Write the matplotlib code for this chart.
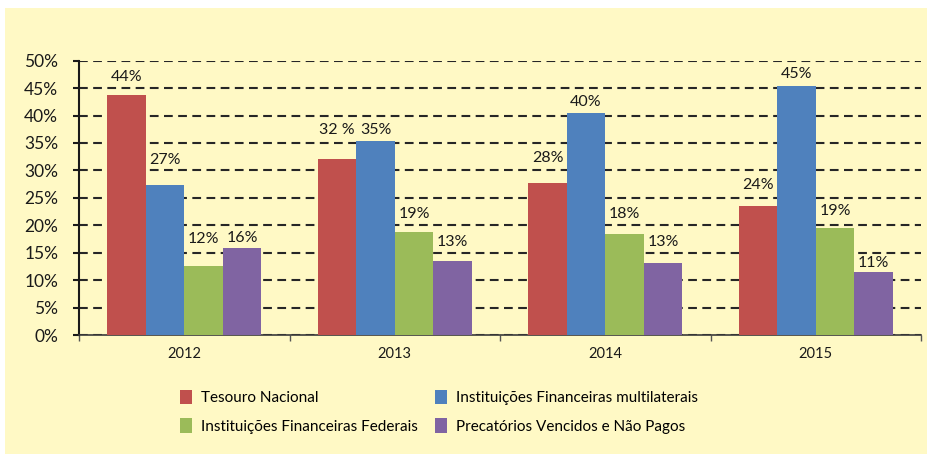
import numpy as np
import matplotlib
matplotlib.use('Agg')
import matplotlib.pyplot as plt
from matplotlib.patches import Rectangle, Patch
from matplotlib.ticker import FixedLocator

# ── Data ──
years = ['2012', '2013', '2014', '2015']
series = ['Tesouro Nacional', 'Instituições Financeiras multilaterais',
          'Instituições Financeiras Federais', 'Precatórios Vencidos e Não Pagos']
tesouro = [43.7, 32.1, 27.7, 23.5]
multilaterais = [27.3, 35.3, 40.4, 45.4]
federais = [12.5, 18.7, 18.4, 19.5]
precatorios = [15.8, 13.4, 13.1, 11.4]
labels = [['44%', '32 %', '28%', '24%'],
          ['27%', '35%', '40%', '45%'],
          ['12%', '19%', '18%', '19%'],
          ['16%', '13%', '13%', '11%']]

# label offsets above bar tops (in % units), as placed in the original
label_off = [[3.3, 5.3, 4.5, 3.8],
             [4.6, 2.1, 2.1, 2.2],
             [5.0, 3.3, 3.6, 3.1],
             [1.8, 3.5, 3.8, 1.7]]

# ── Style ──
BG = '#FFF9C5'
COLORS = ['#C0504D', '#4F81BD', '#9BBB59', '#8064A2']
TEXT = '#1a1a1a'

plt.rcParams['font.family'] = ['Lato', 'DejaVu Sans']
plt.rcParams['font.size'] = 11

fig = plt.figure(figsize=(9.27, 4.54), dpi=100)
fig.patch.set_facecolor('white')
fig.patches.append(Rectangle((5 / 927, 0), 1, 1 - 8 / 454, transform=fig.transFigure,
                             facecolor=BG, edgecolor='none', zorder=-10))

ax = fig.add_axes([79 / 927, 1 - 335 / 454, (921 - 79) / 927, (335 - 60.7) / 454])
ax.set_facecolor('none')

x = np.arange(len(years))
w = 0.183
values = [tesouro, multilaterais, federais, precatorios]
for i, (vals, col, name) in enumerate(zip(values, COLORS, series)):
    pos = x + (i - 1.5) * w
    ax.bar(pos, vals, w, color=col, edgecolor='none', label=name, zorder=3)
    for xi, v, lab, off in zip(pos, vals, labels[i], label_off[i]):
        ax.text(xi, v + off, lab, ha='center', va='center', fontsize=11.5, color=TEXT)

ax.set_xlim(-0.5, 3.5)
ax.set_ylim(0, 50)
ax.set_yticks(np.arange(0, 51, 5))
ax.set_yticklabels([f'{v}%' for v in range(0, 51, 5)], fontsize=12.5, color=TEXT)
ax.yaxis.grid(True, linestyle=(0, (4.2, 2.6)), color='#262626', linewidth=1.5, zorder=0)
ax.set_axisbelow(True)

ax.set_xticks(x)
ax.set_xticklabels(years, fontsize=10.5, color=TEXT)
ax.xaxis.set_minor_locator(FixedLocator([-0.5, 0.5, 1.5, 2.5, 3.5]))
ax.tick_params(axis='x', which='major', length=0, pad=9)
ax.tick_params(axis='x', which='minor', length=4, color='#555555', width=1)
ax.tick_params(axis='y', length=4, width=1.5, color='#1a1a1a', pad=11)

for s in ['top', 'right']:
    ax.spines[s].set_visible(False)
ax.spines['left'].set_linewidth(1.5)
ax.spines['left'].set_color('#1a1a1a')
ax.spines['bottom'].set_linewidth(1.2)
ax.spines['bottom'].set_color('#3a3a3a')

handles = [Patch(facecolor=c, edgecolor='none') for c in COLORS]
order = [0, 2, 1, 3]
fig.legend([handles[i] for i in order], [series[i] for i in order],
           loc='upper left', bbox_to_anchor=(166 / 927, 1 - 376 / 454), ncol=2,
           frameon=False, fontsize=11, handlelength=0.8, handleheight=1.1,
           handletextpad=0.6, columnspacing=1.1, labelspacing=0.85)

fig.savefig('out.png', dpi=100, facecolor='white')
plt.close()
